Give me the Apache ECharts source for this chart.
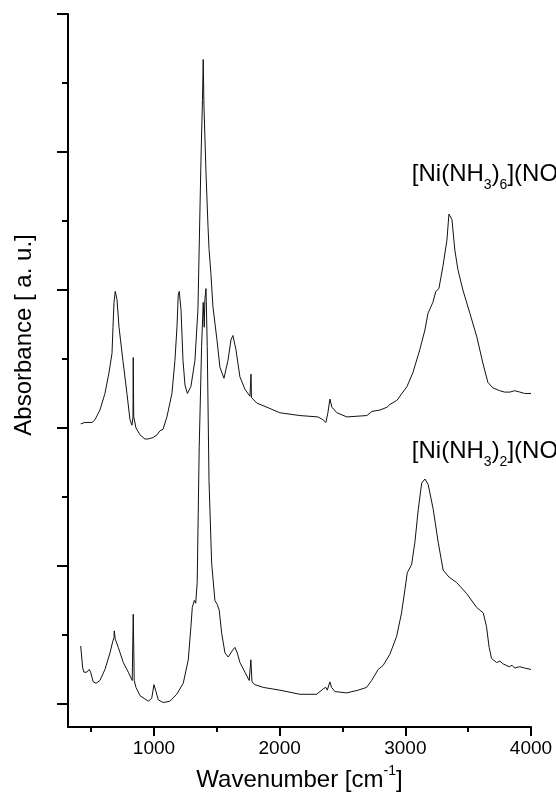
<!DOCTYPE html>
<html>
<head>
<meta charset="utf-8">
<script src="https://cdn.jsdelivr.net/npm/echarts@6/dist/echarts.min.js"></script>
<style>
  html, body { margin: 0; padding: 0; background: #fff; }
  #chart { width: 556px; height: 802px; }
</style>
</head>
<body>
<div id="chart"></div>
<script>
// upper trace: [Ni(NH3)6](NO3)2, wavenumber (cm-1) / absorbance (a.u., offset)
const hexWn = [417, 451, 475, 507, 531, 570, 610, 642, 666, 674, 682, 692, 706, 722, 753, 785, 809, 825, 833, 835,
  839, 857, 889, 928, 952, 992, 1024, 1048, 1061, 1072, 1103, 1143, 1167, 1183, 1193, 1201, 1215, 1231, 1247, 1266,
  1294, 1326, 1350, 1374, 1386, 1392, 1398, 1414, 1430, 1438, 1442, 1453, 1469, 1501, 1525, 1557, 1589, 1613, 1628, 1652,
  1684, 1724, 1764, 1772, 1776, 1819, 1899, 2002, 2161, 2305, 2344, 2368, 2384, 2400, 2416, 2456, 2535, 2694, 2734, 2798,
  2854, 2877, 2933, 3013, 3060, 3116, 3156, 3180, 3219, 3243, 3267, 3299, 3331, 3347, 3371, 3394, 3418, 3458, 3514, 3569,
  3617, 3657, 3697, 3752, 3790, 3832, 3870, 3912, 3950, 4000]
const hexAbs = [2.03, 2.04, 2.04, 2.04, 2.06, 2.13, 2.25, 2.40, 2.54, 2.73, 2.91, 2.99, 2.93, 2.73, 2.49, 2.25, 2.06, 2.02, 2.08, 2.51,
  2.08, 2.00, 1.95, 1.92, 1.92, 1.93, 1.95, 1.98, 1.99, 1.99, 2.08, 2.25, 2.49, 2.73, 2.96, 2.99, 2.86, 2.49, 2.31, 2.25,
  2.30, 2.49, 2.86, 3.94, 4.38, 4.67, 4.33, 3.85, 3.46, 3.30, 3.29, 3.12, 2.88, 2.64, 2.44, 2.36, 2.49, 2.64, 2.67, 2.57,
  2.37, 2.28, 2.23, 2.39, 2.22, 2.18, 2.15, 2.11, 2.09, 2.08, 2.06, 2.04, 2.11, 2.21, 2.15, 2.11, 2.08, 2.09, 2.12, 2.13,
  2.15, 2.17, 2.20, 2.30, 2.40, 2.57, 2.71, 2.83, 2.91, 2.99, 3.01, 3.17, 3.36, 3.55, 3.51, 3.29, 3.15, 3.00, 2.83, 2.66,
  2.47, 2.33, 2.29, 2.27, 2.26, 2.26, 2.27, 2.26, 2.25, 2.25]

// lower trace: [Ni(NH3)2](NO3)2
const diWn = [417, 433, 443, 465, 485, 496, 517, 539, 570, 610, 650, 671, 682, 684, 692, 716, 756, 796, 827, 835,
  843, 857, 889, 955, 982, 1000, 1016, 1034, 1074, 1127, 1181, 1233, 1273, 1294, 1305, 1321, 1332, 1344, 1360, 1379,
  1392, 1400, 1405, 1414, 1424, 1438, 1459, 1485, 1504, 1519, 1539, 1565, 1591, 1626, 1644, 1663, 1684, 1724, 1758, 1771,
  1780, 1803, 1869, 2002, 2161, 2294, 2321, 2347, 2368, 2379, 2400, 2413, 2440, 2533, 2625, 2692, 2732, 2784, 2824, 2877,
  2931, 2970, 2997, 3015, 3050, 3076, 3103, 3130, 3156, 3182, 3222, 3262, 3301, 3347, 3408, 3488, 3567, 3620, 3646, 3667,
  3686, 3726, 3752, 3779, 3827, 3850, 3870, 3911, 3950, 4000]
const diAbs = [0.42, 0.26, 0.23, 0.23, 0.25, 0.23, 0.16, 0.15, 0.17, 0.25, 0.37, 0.45, 0.48, 0.53, 0.47, 0.41, 0.30, 0.23, 0.17, 0.65,
  0.17, 0.12, 0.06, 0.02, 0.04, 0.14, 0.09, 0.03, 0.01, 0.02, 0.07, 0.15, 0.32, 0.56, 0.70, 0.75, 0.73, 0.88, 1.86, 2.59,
  2.91, 2.73, 2.93, 3.01, 2.59, 1.62, 1.02, 0.75, 0.72, 0.68, 0.51, 0.37, 0.34, 0.39, 0.41, 0.37, 0.30, 0.23, 0.17, 0.32,
  0.16, 0.14, 0.12, 0.10, 0.07, 0.07, 0.09, 0.11, 0.12, 0.10, 0.16, 0.12, 0.09, 0.08, 0.10, 0.12, 0.17, 0.25, 0.28, 0.36,
  0.49, 0.66, 0.83, 0.95, 1.01, 1.17, 1.41, 1.60, 1.63, 1.59, 1.41, 1.17, 0.97, 0.92, 0.88, 0.80, 0.70, 0.66, 0.56, 0.41,
  0.33, 0.30, 0.31, 0.29, 0.27, 0.28, 0.26, 0.27, 0.26, 0.25]

const xMajor = [1000, 2000, 3000, 4000]
const xMinor = [500, 1500, 2500, 3500]
const yMajor = [0, 1, 2, 3, 4, 5]
const yMinor = [0.5, 1.5, 2.5, 3.5, 4.5]

// trace labels, anchored at [wavenumber, absorbance] (they run off the right edge, as in the original)
const traceLabels = [
  { text: '[Ni(NH{sub|3}){sub|6}](NO{sub|3}){sub|2}', at: [3052, 3.84] },
  { text: '[Ni(NH{sub|3}){sub|2}](NO{sub|3}){sub|2}', at: [3052, 1.83] }
]

const font = '"Liberation Sans", Arial, sans-serif'
const black = '#000'

const pairs = (xs, ys) => xs.map((x, i) => [x, ys[i]])

const subRich = {
  sub: { fontSize: 14, fontFamily: font, color: black, verticalAlign: 'bottom', lineHeight: 36 }
}

const chart = echarts.init(document.getElementById('chart'), null, { renderer: 'canvas' })

const option = {
  animation: false,
  backgroundColor: '#fff',
  grid: { left: 68, right: 25, top: 14, bottom: 75 },
  xAxis: [
    {
      type: 'value',
      position: 'bottom',
      min: 316,
      max: 4000,
      name: 'Wavenumber [cm{sup|-1}]',
      nameLocation: 'middle',
      nameGap: 37,
      nameTextStyle: {
        color: black,
        fontSize: 24,
        fontFamily: font,
        rich: { sup: { fontSize: 14, fontFamily: font, color: black, verticalAlign: 'top', lineHeight: 32 } }
      },
      axisLine: { onZero: false, lineStyle: { color: black, width: 2 } },
      axisTick: { customValues: xMajor, length: 9, lineStyle: { color: black, width: 2 } },
      axisLabel: {
        customValues: xMajor,
        formatter: v => String(v),
        color: black,
        fontSize: 19,
        fontFamily: font,
        margin: 12
      },
      splitLine: { show: false }
    },
    {
      // minor ticks
      type: 'value',
      position: 'bottom',
      min: 316,
      max: 4000,
      axisLine: { show: false, onZero: false },
      axisTick: { customValues: xMinor, length: 5, lineStyle: { color: black, width: 2 } },
      axisLabel: { show: false },
      splitLine: { show: false }
    }
  ],
  yAxis: [
    {
      type: 'value',
      position: 'left',
      min: -0.167,
      max: 5,
      axisLine: { show: true, onZero: false, lineStyle: { color: black, width: 2 } },
      axisTick: { show: true, customValues: yMajor, length: 11, lineStyle: { color: black, width: 2 } },
      axisLabel: { show: false },
      splitLine: { show: false }
    },
    {
      type: 'value',
      position: 'left',
      min: -0.167,
      max: 5,
      axisLine: { show: false, onZero: false },
      axisTick: { show: true, customValues: yMinor, length: 6, lineStyle: { color: black, width: 2 } },
      axisLabel: { show: false },
      splitLine: { show: false }
    }
  ],
  series: [
    {
      name: '[Ni(NH3)6](NO3)2',
      type: 'line',
      data: pairs(hexWn, hexAbs),
      showSymbol: false,
      lineStyle: { color: '#111', width: 1 },
      clip: false
    },
    {
      name: '[Ni(NH3)2](NO3)2',
      type: 'line',
      data: pairs(diWn, diAbs),
      showSymbol: false,
      lineStyle: { color: '#111', width: 1 },
      clip: false
    }
  ]
}

chart.setOption(option)

// y axis title (Origin centres it a bit above the axis middle) and the trace labels
const graphics = [
  {
    type: 'text',
    x: 24,
    y: 335,
    rotation: Math.PI / 2,
    style: {
      text: 'Absorbance [ a. u.]',
      fill: black,
      font: '24px ' + font,
      align: 'center',
      verticalAlign: 'middle'
    }
  }
]
traceLabels.forEach(l => {
  const p = chart.convertToPixel({ gridIndex: 0 }, l.at)
  graphics.push({
    type: 'text',
    x: p[0],
    y: p[1],
    style: {
      text: l.text,
      fill: black,
      fontSize: 24,
      fontFamily: font,
      align: 'left',
      verticalAlign: 'middle',
      rich: subRich
    }
  })
})
chart.setOption({ graphic: graphics })
</script>
</body>
</html>
